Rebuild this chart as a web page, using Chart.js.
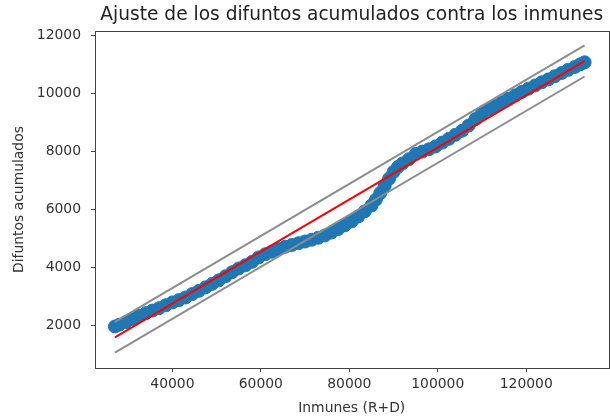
<!DOCTYPE html>
<html>
<head>
<meta charset="utf-8">
<script src="https://cdn.jsdelivr.net/npm/chart.js@4"></script>
<style>
  html, body { margin: 0; padding: 0; background: #fff; overflow: hidden; }
  #myChart { display: block; }
</style>
</head>
<body>
<canvas id="myChart" width="616" height="420"></canvas>
<script>
// inmunes (R+D) vs difuntos acumulados
const inmunes = [
  27000, 28000, 29500, 31000, 32500, 34000, 35500, 37000, 38500, 40000,
  41500, 43000, 44500, 46000, 47500, 49000, 50500, 52000, 53500, 55000,
  56500, 58000, 59500, 61000, 62500, 64000, 65500, 67000, 68500, 70000,
  71500, 73000, 74500, 76000, 77500, 79000, 80500, 82000, 83500, 85000,
  86000, 87000, 88000, 89000, 90000, 91000, 92000, 93500, 95000, 96500,
  98000, 99500, 101000, 102500, 104000, 105500, 107000, 108500, 110000, 111500,
  113000, 114500, 116000, 117500, 119000, 120500, 122000, 123500, 125000, 126500,
  128000, 129500, 131000, 132200, 133200
]
const difuntos = [
  1950, 2010, 2100, 2200, 2320, 2410, 2500, 2580, 2680, 2780,
  2860, 2950, 3070, 3180, 3300, 3420, 3540, 3680, 3820, 3950,
  4060, 4180, 4330, 4440, 4530, 4620, 4700, 4760, 4820, 4880,
  4940, 5010, 5090, 5190, 5310, 5440, 5570, 5740, 5920, 6120,
  6320, 6550, 6800, 7050, 7280, 7450, 7570, 7720, 7900, 7980,
  8060, 8160, 8290, 8420, 8560, 8700, 8880, 9100, 9300, 9430,
  9550, 9680, 9800, 9920, 10040, 10150, 10260, 10370, 10470, 10580,
  10690, 10800, 10900, 10990, 11060
]

// recta de ajuste y bandas
const ajusteX = [27000, 133200]
const ajusteY = [1576, 11100]
const bandaSup = [2110, 11640]
const bandaInf = [1045, 10570]

const xTicks = [40000, 60000, 80000, 100000, 120000]
const yTicks = [2000, 4000, 6000, 8000, 10000, 12000]

const toPoints = (xs, ys) => xs.map((x, i) => ({ x: x, y: ys[i] }))

const frame = {
  id: 'frame',
  afterDatasetsDraw(chart) {
    const { ctx, chartArea } = chart
    ctx.save()
    ctx.strokeStyle = '#444'
    ctx.lineWidth = 1
    ctx.strokeRect(Math.round(chartArea.left) + 0.5, Math.round(chartArea.top) + 0.5,
      Math.round(chartArea.right - chartArea.left), Math.round(chartArea.bottom - chartArea.top))
    ctx.restore()
  }
}

const font = { family: 'DejaVu Sans', size: 13.9 }

new Chart(document.getElementById('myChart'), {
  type: 'scatter',
  data: {
    datasets: [
      {
        data: toPoints(inmunes, difuntos),
        backgroundColor: '#1f77b4',
        borderColor: '#1f77b4',
        borderWidth: 1,
        pointRadius: 6.5,
        order: 3,
      },
      {
        data: toPoints(ajusteX, ajusteY),
        showLine: true,
        borderColor: '#ff0000',
        borderWidth: 2,
        pointRadius: 0,
        order: 1,
      },
      {
        data: toPoints(ajusteX, bandaSup),
        showLine: true,
        borderColor: '#8c8c8c',
        borderWidth: 2,
        pointRadius: 0,
        order: 2,
      },
      {
        data: toPoints(ajusteX, bandaInf),
        showLine: true,
        borderColor: '#8c8c8c',
        borderWidth: 2,
        pointRadius: 0,
        order: 2,
      },
    ],
  },
  options: {
    responsive: false,
    animation: false,
    layout: { padding: { left: 0, right: 2, top: 0, bottom: 0 } },
    plugins: {
      legend: { display: false },
      tooltip: { enabled: false },
      title: {
        display: true,
        text: 'Ajuste de los difuntos acumulados contra los inmunes',
        fullSize: false,
        color: '#222',
        font: { family: 'DejaVu Sans', size: 18.6, weight: 'normal' },
        padding: { top: 4, bottom: 4.7 },
      },
    },
    scales: {
      x: {
        type: 'linear',
        min: 22500,
        max: 138600,
        afterBuildTicks: axis => { axis.ticks = xTicks.map(v => ({ value: v })) },
        afterFit: axis => { axis.height = 52 },
        border: { display: false },
        grid: { drawOnChartArea: false, color: '#444', tickLength: 4 },
        ticks: { color: '#333', font: font, padding: 4, maxRotation: 0, callback: v => String(v) },
        title: { display: true, text: 'Inmunes (R+D)', color: '#333', font: font, padding: { top: 0, bottom: 3.5 } },
      },
      y: {
        type: 'linear',
        min: 518,
        max: 12138,
        afterBuildTicks: axis => { axis.ticks = yTicks.map(v => ({ value: v })) },
        afterFit: axis => { axis.width = 95 },
        border: { display: false },
        grid: { drawOnChartArea: false, color: '#444', tickLength: 4 },
        ticks: { color: '#333', font: font, padding: 10, callback: v => String(v) },
        title: { display: true, text: 'Difuntos acumulados', color: '#333', font: font, padding: { top: 11, bottom: 0 } },
      },
    },
  },
  plugins: [frame],
})
</script>
</body>
</html>
